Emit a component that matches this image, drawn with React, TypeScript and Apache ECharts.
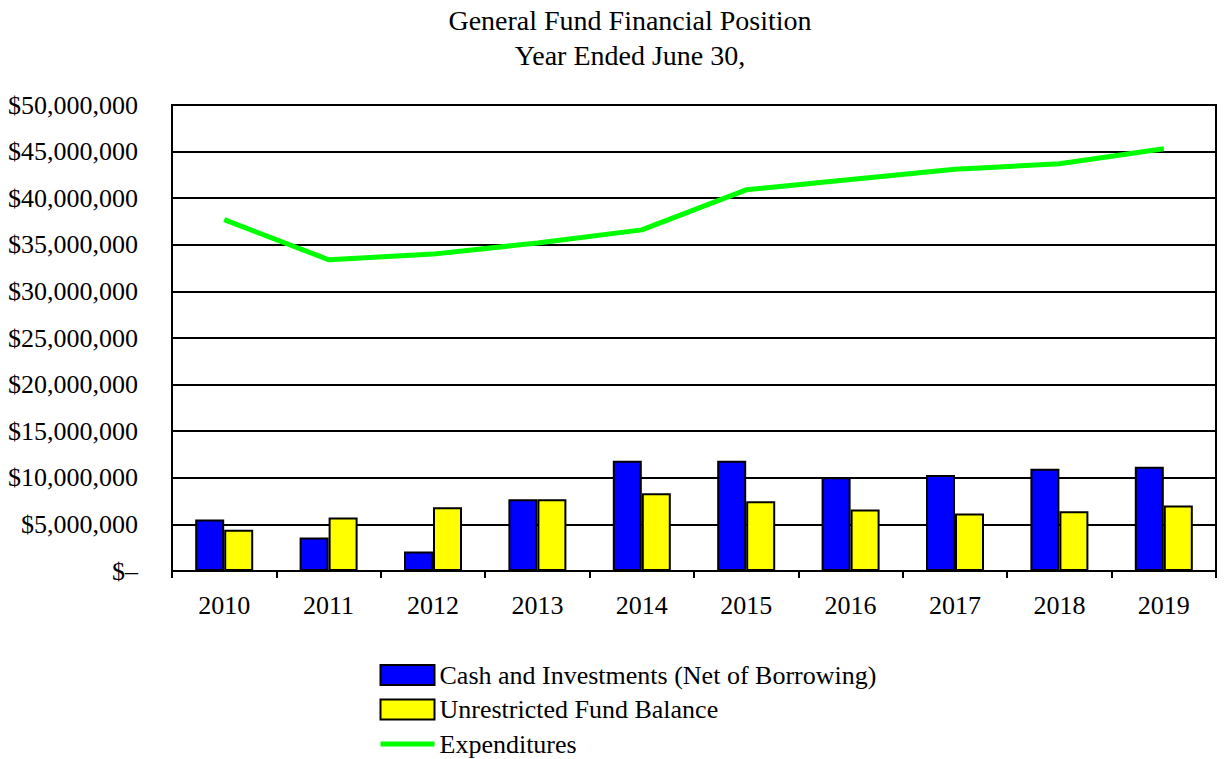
import React, { useEffect, useRef } from "react";
import * as echarts from "echarts";

const years = ["2010", "2011", "2012", "2013", "2014", "2015", "2016", "2017", "2018", "2019"];
const cashInvestments = [5530000, 3590000, 2080000, 7690000, 11820000, 11820000, 10060000, 10310000, 10960000, 11180000];
const unrestrictedBalance = [4420000, 5750000, 6830000, 7690000, 8340000, 7480000, 6610000, 6180000, 6400000, 7040000];
const expenditures = [37700000, 33400000, 34000000, 35200000, 36600000, 40900000, 42000000, 43100000, 43700000, 45300000];
const titleLines = ["General Fund Financial Position", "Year Ended June 30,"];

const FONT = "Liberation Serif";

function fmtMoney(v: number): string {
  if (v === 0) return "$\u2013";
  return "$" + v.toLocaleString("en-US");
}

export default function App() {
  const ref = useRef<HTMLDivElement>(null);
  useEffect(() => {
    document.body.style.margin = "0";
    if (!ref.current) return;
    const chart = echarts.init(ref.current, null, { renderer: "svg" });
    chart.setOption({
      animation: false,
      backgroundColor: "#ffffff",
      textStyle: { fontFamily: FONT, color: "#000" },
      graphic: [
        {
          type: "text",
          x: 630,
          y: 20,
          style: { text: titleLines[0], fontFamily: FONT, fontSize: 28, fill: "#000", align: "center", verticalAlign: "middle" },
        },
        {
          type: "text",
          x: 630,
          y: 55,
          style: { text: titleLines[1], fontFamily: FONT, fontSize: 28, fill: "#000", align: "center", verticalAlign: "middle" },
        },
      ],
      grid: {
        left: 172,
        right: 9,
        top: 105,
        bottom: 188,
        show: true,
        borderColor: "#000",
        borderWidth: 2,
        backgroundColor: "transparent",
      },
      legend: {
        orient: "vertical",
        left: 378,
        top: 662,
        padding: 0,
        itemWidth: 54,
        itemHeight: 20,
        itemGap: 8.5,
        textStyle: { fontFamily: FONT, fontSize: 26, color: "#000" },
        data: [
          { name: "Cash and Investments (Net of Borrowing)", icon: "rect" },
          { name: "Unrestricted Fund Balance", icon: "rect" },
          { name: "Expenditures", itemStyle: { opacity: 0 }, lineStyle: { width: 5, color: "#00ff00" } },
        ],
      },
      xAxis: {
        type: "category",
        data: years,
        boundaryGap: true,
        axisLine: { show: true, lineStyle: { color: "#000", width: 2 } },
        axisTick: { show: true, alignWithLabel: false, length: 7, lineStyle: { color: "#000", width: 2 } },
        axisLabel: { fontFamily: FONT, fontSize: 26, color: "#000", margin: 21 },
      },
      yAxis: {
        type: "value",
        min: 0,
        max: 50000000,
        interval: 5000000,
        axisLine: { show: true, lineStyle: { color: "#000", width: 2 } },
        axisTick: { show: true, inside: true, length: 6, lineStyle: { color: "#000", width: 2 } },
        splitLine: { show: true, lineStyle: { color: "#000", width: 2 } },
        axisLabel: { fontFamily: FONT, fontSize: 26, color: "#000", margin: 34, formatter: fmtMoney },
      },
      series: [
        {
          name: "Cash and Investments (Net of Borrowing)",
          type: "bar",
          data: cashInvestments,
          barWidth: 29,
          barGap: "0%",
          itemStyle: { color: "#0000ff", borderColor: "#000", borderWidth: 2 },
        },
        {
          name: "Unrestricted Fund Balance",
          type: "bar",
          data: unrestrictedBalance,
          barWidth: 29,
          barGap: "0%",
          itemStyle: { color: "#ffff00", borderColor: "#000", borderWidth: 2 },
        },
        {
          name: "Expenditures",
          type: "line",
          data: expenditures,
          symbol: "none",
          lineStyle: { color: "#00ff00", width: 5 },
          itemStyle: { color: "#00ff00" },
          z: 5,
        },
      ],
    });
    return () => chart.dispose();
  }, []);
  return <div ref={ref} style={{ width: 1225, height: 759 }} />;
}
